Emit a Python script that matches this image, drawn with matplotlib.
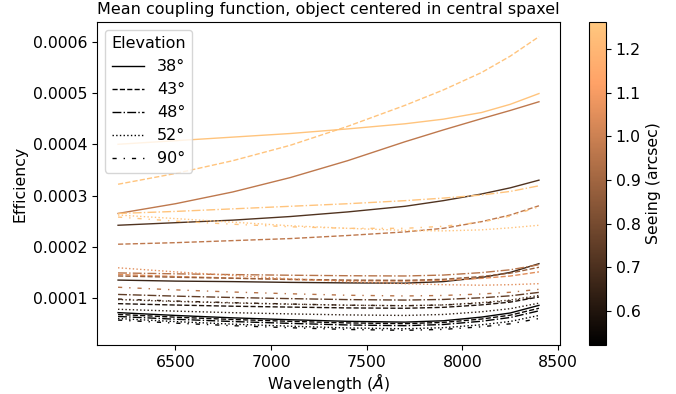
import numpy as np
import matplotlib
matplotlib.use('Agg')
import matplotlib.pyplot as plt
from matplotlib.lines import Line2D

plt.rcParams['font.size'] = 11.3

# wavelengths where the coupling efficiency was sampled (Angstrom)
wavelength = [6200, 6500, 6800, 7100, 7400, 7700, 7900, 8100, 8250, 8400]

# elevation 38 deg  (efficiency in units of 1e-6)
seeing_38 = [1.25, 0.97, 0.71, 0.66, 0.53]
eff_38 = [
    [400, 407, 414, 421, 430, 440, 449, 462, 478, 499],
    [265, 284, 307, 335, 368, 405, 428, 450, 466, 483],
    [242, 247, 252, 259, 268, 279, 290, 303, 315, 330],
    [135, 133, 132, 130.5, 129.5, 129, 132, 140, 150, 167],
    [71.5, 66, 61.3, 57.6, 54.5, 53, 55.6, 62.8, 70.8, 85.7],
]

# elevation 43 deg
seeing_43 = [1.25, 0.97, 1.05, 0.88, 0.60, 0.55]
eff_43 = [
    [322, 343, 368, 398, 435, 476, 506, 540, 572, 610],
    [205, 208, 212, 216, 222, 229, 236, 249, 262, 280],
    [146, 142, 139, 136, 134, 133, 134.4, 138.4, 142.9, 151],
    [143, 140.5, 138.5, 136.5, 135, 134.5, 136.5, 142, 148.5, 160],
    [89, 86.3, 84, 82.3, 80.7, 80, 81.8, 86.6, 92, 102],
    [68, 62.6, 58.1, 54.5, 51.4, 50, 52.4, 59, 66.5, 80],
]

# elevation 48 deg
seeing_48 = [1.25, 0.95, 0.75, 0.53]
eff_48 = [
    [265, 269, 274, 279, 284, 290, 295, 301, 308, 319],
    [149, 147.2, 145.7, 144.5, 143.5, 143, 144.8, 149.6, 155.1, 165],
    [107, 103.7, 101, 98.8, 96.9, 96, 97.2, 100.5, 104.3, 111],
    [64, 58.6, 54.1, 50.5, 47.4, 46, 48.3, 54.7, 62, 75],
]

# elevation 52 deg
seeing_52 = [1.25, 1.05, 0.70, 0.62, 0.53]
eff_52 = [
    [262, 255, 248, 241, 236, 232, 231, 233, 237, 242],
    [159, 151, 144, 137.5, 132, 128, 126, 125, 126, 128],
    [97, 93.4, 90.4, 88, 86, 85, 86.6, 91, 96, 105],
    [78, 74.4, 71.4, 69, 67, 66, 67.9, 73.2, 79.2, 90],
    [60, 54, 49, 45, 41.6, 40, 42.1, 47.8, 54.3, 66],
]

# elevation 90 deg
seeing_90 = [1.25, 0.95, 0.65, 0.53]
eff_90 = [
    [258, 250, 244, 239, 236, 236, 240, 248, 260, 278],
    [121, 115.9, 111.7, 108.3, 105.4, 104, 105, 107.9, 111.2, 117],
    [98, 94.1, 90.9, 88.3, 86, 85, 86.4, 90.1, 94.4, 102],
    [57, 51, 46, 42, 38.6, 37, 38.8, 43.9, 49.7, 60],
]

elevations = ['38°', '43°', '48°', '52°', '90°']
styles = ['-', '--', '-.', ':', (0, (3, 5, 1, 5))]
seeing_all = [seeing_38, seeing_43, seeing_48, seeing_52, seeing_90]
eff_all = [eff_38, eff_43, eff_48, eff_52, eff_90]

cmap = plt.get_cmap('copper')
norm = matplotlib.colors.Normalize(vmin=0.522, vmax=1.262)

fig = plt.figure(figsize=(6.76, 3.94), dpi=100)
ax = fig.add_axes([0.1435, 0.1244, 0.6849, 0.8198])
cax = fig.add_axes([0.8713, 0.1244, 0.0251, 0.8198])

for ls, seeings, effs in zip(styles, seeing_all, eff_all):
    for s, e in zip(seeings, effs):
        ax.plot(wavelength, np.array(e) * 1e-6, color=cmap(norm(s)),
                linestyle=ls, linewidth=1.0)

handles = [Line2D([0], [0], color='k', linestyle=ls, linewidth=1.0) for ls in styles]
ax.legend(handles, elevations, title='Elevation', loc='upper left',
          fontsize=11.5, title_fontsize=11.5)

ax.set_xlabel('Wavelength ($\\AA$)', labelpad=1)
ax.set_ylabel('Efficiency')
ax.set_title('Mean coupling function, object centered in central spaxel', fontsize=11.5)
ax.set_xticks([6500, 7000, 7500, 8000, 8500])

sm = matplotlib.cm.ScalarMappable(norm=norm, cmap=cmap)
cb = fig.colorbar(sm, cax=cax)
cb.set_label('Seeing (arcsec)')

fig.savefig('out.png', dpi=100)
